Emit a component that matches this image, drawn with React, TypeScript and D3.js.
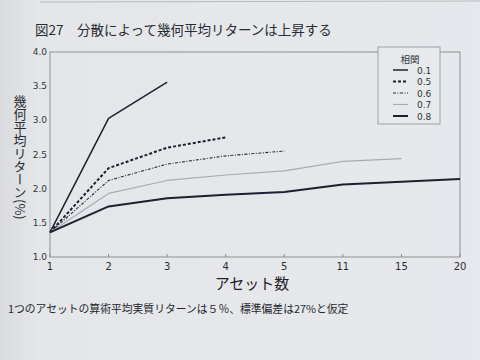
import React from "react";
import * as d3 from "d3";

const categories = ["1", "2", "3", "4", "5", "11", "15", "20"];
const yTicks = [1.0, 1.5, 2.0, 2.5, 3.0, 3.5, 4.0];
const r01 = [1.36, 3.03, 3.56];
const r05 = [1.36, 2.3, 2.6, 2.75];
const r06 = [1.36, 2.12, 2.36, 2.48, 2.55];
const r07 = [1.36, 1.93, 2.12, 2.2, 2.26, 2.4, 2.44];
const r08 = [1.36, 1.74, 1.86, 1.91, 1.95, 2.06, 2.1, 2.14];
const seriesNames = ["0.1", "0.5", "0.6", "0.7", "0.8"];
const seriesValues = [r01, r05, r06, r07, r08];

const styles = [
  { stroke: "#1c2030", width: 1.5, dash: "" },
  { stroke: "#1c2030", width: 2, dash: "3,2" },
  { stroke: "#2a2e3c", width: 1.1, dash: "3,1.5,1,1.5" },
  { stroke: "#a9abb0", width: 1.2, dash: "" },
  { stroke: "#1c2030", width: 2, dash: "" },
];

const L = 50, R = 460, T = 52, B = 257;

export default function App() {
  const x = d3.scalePoint<string>().domain(categories).range([L, R]);
  const y = d3.scaleLinear().domain([1, 4]).range([B, T]);
  const line = d3
    .line<number>()
    .x((_, i) => x(categories[i]) as number)
    .y((d) => y(d));
  const font = "'DejaVu Sans', sans-serif";
  const jp = "'Noto Sans CJK JP', sans-serif";
  return (
    <svg
      width={480}
      height={360}
      style={{ position: "absolute", left: 0, top: 0, display: "block" }}
    >
      <defs>
        <linearGradient id="paper" x1="0" y1="0" x2="1" y2="0">
          <stop offset="0" stopColor="#d9dbde" />
          <stop offset="0.08" stopColor="#e4e6e9" />
          <stop offset="1" stopColor="#e6e8ed" />
        </linearGradient>
      </defs>
      <rect x={0} y={0} width={480} height={360} fill="url(#paper)" />
      <line x1={40} y1={2} x2={480} y2={1} stroke="#b8babe" strokeWidth={1} />
      <text x={35} y={35} fontFamily={jp} fontSize={13.5} fill="#2a2c33">
        図27　分散によって幾何平均リターンは上昇する
      </text>
      <rect x={L} y={T} width={R - L} height={B - T} fill="none" stroke="#8d8f94" strokeWidth={1} />
      {yTicks.map((t) => (
        <text key={t} x={L - 3} y={y(t) + 3} textAnchor="end" fontFamily={font} fontSize={9} fill="#33353b">
          {t.toFixed(1)}
        </text>
      ))}
      {categories.map((c) => (
        <g key={c}>
          <line x1={x(c)} x2={x(c)} y1={B} y2={B - 3} stroke="#8d8f94" />
          <text x={x(c)} y={B + 13} textAnchor="middle" fontFamily={font} fontSize={10} fill="#2a2c33">
            {c}
          </text>
        </g>
      ))}
      {seriesValues.map((vals, i) => (
        <path
          key={i}
          d={line(vals) || ""}
          fill="none"
          stroke={styles[i].stroke}
          strokeWidth={styles[i].width}
          strokeDasharray={styles[i].dash}
          strokeLinejoin="round"
        />
      ))}
      <text
        x={20}
        y={95}
        fontFamily={jp}
        fontSize={13}
        fill="#2a2c33"
        style={{ writingMode: "vertical-rl" as any }}
      >
        幾何平均リターン(%)
      </text>
      <text x={252} y={289} textAnchor="middle" fontFamily={jp} fontSize={15} fill="#1e2027">
        アセット数
      </text>
      <text x={8} y={313} fontFamily={jp} fontSize={10.8} fill="#25272d">
        1つのアセットの算術平均実質リターンは５％、標準偏差は27%と仮定
      </text>
      <g>
        <rect x={378} y={47} width={62} height={77} fill="#e7e9ed" stroke="#8d8f94" strokeWidth={0.8} />
        <text x={410} y={63} textAnchor="middle" fontFamily={jp} fontSize={9.5} fill="#33353b">
          相関
        </text>
        {seriesNames.map((n, i) => (
          <g key={n}>
            <line
              x1={393}
              x2={408}
              y1={70 + i * 11.5}
              y2={70 + i * 11.5}
              stroke={styles[i].stroke}
              strokeWidth={styles[i].width}
              strokeDasharray={styles[i].dash}
            />
            <text x={417} y={73.5 + i * 11.5} fontFamily={font} fontSize={9} fill="#33353b">
              {n}
            </text>
          </g>
        ))}
      </g>
    </svg>
  );
}
